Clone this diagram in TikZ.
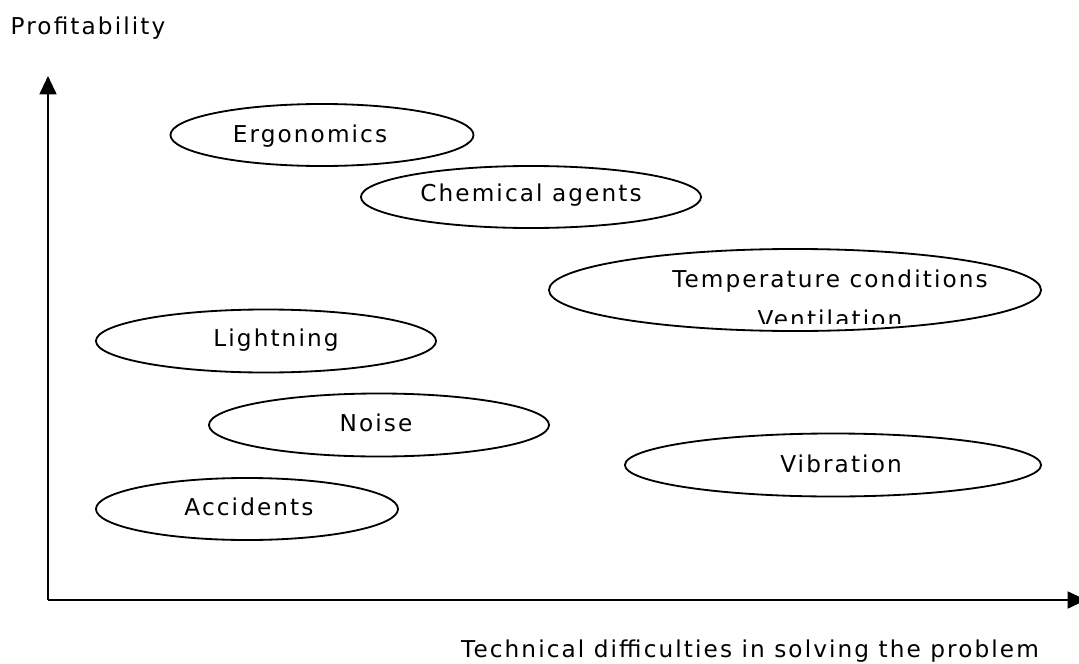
\documentclass[tikz,border=0pt]{standalone}
\usepackage{fontspec}
\setmainfont{DejaVu Sans}[LetterSpace=9]
\usetikzlibrary{shapes.geometric,arrows.meta}
\tikzset{
  oval/.style={draw, ellipse, line width=1.3pt, inner sep=0pt},
  lbl/.style={inner sep=0pt, font=\fontsize{16.5pt}{19pt}\selectfont},
  axis/.style={line width=1.5pt, -{Triangle[length=13pt,width=12pt]}}
}
\begin{document}
\begin{tikzpicture}[x=0.025cm,y=-0.025cm]
\useasboundingbox (0,0) rectangle (1079,664);
\clip (0,0) rectangle (1079,664);
% axes
\coordinate (o) at (48,600);
\coordinate (ytop) at (48,76);
\coordinate (xend) at (1086,600);
\draw[axis] (o) -- (ytop);
\draw[axis] (o) -- (xend);
\node[lbl] (ylab) at (88,28) {Profitability};
\node[lbl] (xlab) at (750,651) {Technical difficulties in solving the problem};
% ellipses
\node[oval, minimum width=7.575cm, minimum height=1.55cm] (erg) at (322,135) {};
\node[lbl] (ergt) at (310,136) {Ergonomics};
\node[oval, minimum width=8.5cm, minimum height=1.55cm] (chem) at (531,197) {};
\node[lbl] (chemt) at (531,195) {Chemical agents};
\node[oval, minimum width=12.3cm, minimum height=2.05cm] (temp) at (795,290) {};
\node[lbl] (tempt) at (830,281) {Temperature conditions};
\begin{scope}
\clip (560,300) rectangle (1040,323);
\node[lbl] (vent) at (830,319) {Ventilation};
\end{scope}
\node[oval, minimum width=8.5cm, minimum height=1.575cm] (light) at (266,341) {};
\node[lbl] (lightt) at (276,340) {Lightning};
\node[oval, minimum width=8.5cm, minimum height=1.575cm] (noise) at (379,425) {};
\node[lbl] (noiset) at (376,423) {Noise};
\node[oval, minimum width=10.4cm, minimum height=1.575cm] (vib) at (833,465) {};
\node[lbl] (vibt) at (841,464) {Vibration};
\node[oval, minimum width=7.55cm, minimum height=1.55cm] (acc) at (247,509) {};
\node[lbl] (acct) at (249,507) {Accidents};
\end{tikzpicture}
\end{document}
